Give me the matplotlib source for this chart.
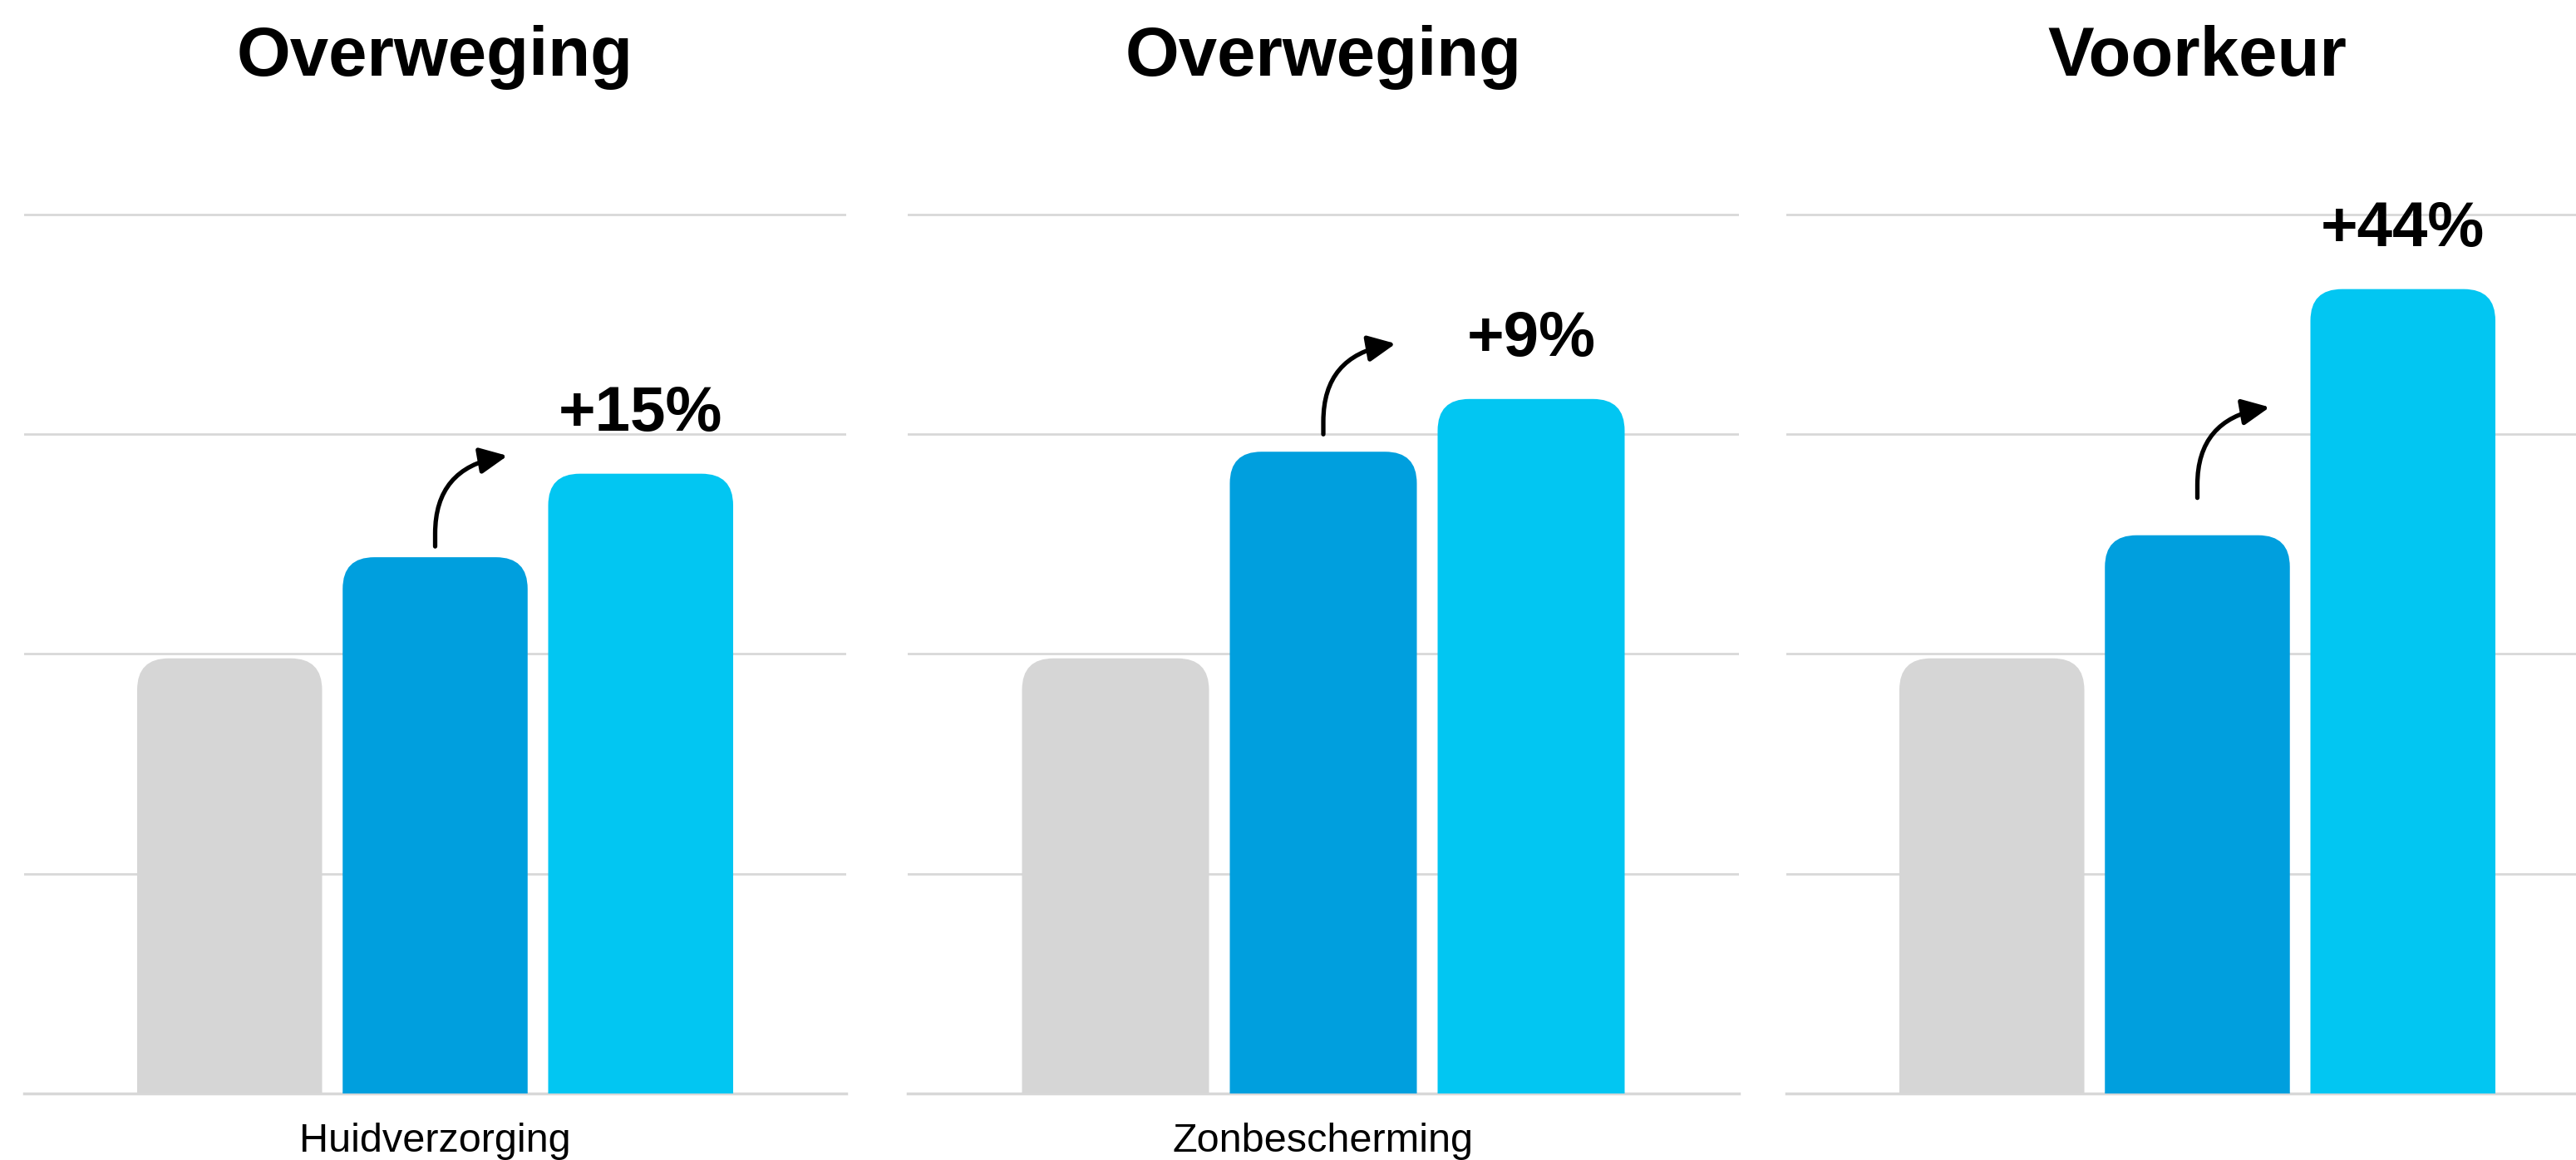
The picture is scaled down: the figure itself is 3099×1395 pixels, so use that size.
import matplotlib.pyplot as plt
from matplotlib.patches import FancyBboxPatch
from matplotlib.transforms import offset_copy

plt.rcParams['font.family'] = ['Liberation Sans', 'DejaVu Sans']

# data: index, grey bar = baseline
titles = ["Overweging", "Overweging", "Voorkeur"]
categories = ["Huidverzorging", "Zonbescherming", ""]
base_vals = [99, 99, 99]
mid_vals = [122, 146, 127]
top_vals = [141, 158, 183]
uplift_labels = ["+15%", "+9%", "+44%"]
grid_vals = [50, 100, 150, 200]

colors = ["#d6d6d6", "#009fde", "#02c6f2"]
grid_color = "#d8d8d8"

W, H = 3099, 1395
fig = plt.figure(figsize=(W / 100, H / 100), dpi=100)

# panel placement in pixels (left, width)
panels = [(29, 989), (1092, 1000), (2149, 989)]
bottom_px = 80
ymax = 230
height_px = 5.286 * ymax
arrow_gap = [13, 21, 45]   # px between blue bar top and arrow start
radius_px = 38

for i, (left, width) in enumerate(panels):
    ax = fig.add_axes([left / W, bottom_px / H, width / W, height_px / H])
    ax.set_xlim(-1, 3)
    ax.set_ylim(0, ymax)
    for s in ax.spines.values():
        s.set_visible(False)
    ax.set_yticks(grid_vals)
    ax.grid(axis='y', color=grid_color, lw=2)
    ax.set_axisbelow(True)
    ax.axhline(0, color=grid_color, lw=2.5, clip_on=False, zorder=1)
    ax.tick_params(axis='y', length=0, labelleft=False)
    ax.set_xticks([1])
    ax.set_xticklabels([categories[i]], fontsize=35)
    ax.tick_params(axis='x', length=0, pad=25)

    vals = [base_vals[i], mid_vals[i], top_vals[i]]
    bars = ax.bar([0, 1, 2], vals, width=0.9, color=colors, zorder=2)

    # rounded top corners: draw each bar as a rounded box, bottom cut at y=0
    rx = radius_px / (width / 4)
    ry = radius_px / 5.286
    for b, c in zip(bars, colors):
        x0, w, h = b.get_x(), b.get_width(), b.get_height()
        b.set_visible(False)
        ax.add_patch(FancyBboxPatch((x0, -ry), w, h + ry,
                                    boxstyle=f"round,pad=0,rounding_size={rx}",
                                    mutation_aspect=ry / rx,
                                    fc=c, ec='none', zorder=2))

    # uplift label above the last bar
    ax.annotate(uplift_labels[i], xy=(2, top_vals[i]), xytext=(0, 37),
                textcoords='offset points', ha='center', va='baseline',
                fontsize=55, fontweight='bold', zorder=4)

    # curved arrow from the middle bar
    g = arrow_gap[i]
    start_tr = offset_copy(ax.transData, fig=fig, x=0, y=g, units='dots')
    tip_tr = offset_copy(ax.transData, fig=fig, x=87, y=g + 109, units='dots')
    ax.annotate("", xy=(1, mid_vals[i]), xycoords=tip_tr,
                xytext=(1, mid_vals[i]), textcoords=start_tr,
                arrowprops=dict(arrowstyle="-|>,head_length=20,head_width=9.5",
                                connectionstyle="angle,angleA=90,angleB=10,rad=78",
                                mutation_scale=1, lw=3.8, color='black',
                                shrinkA=0, shrinkB=0),
                annotation_clip=False, zorder=4)

    ax.set_title(titles[i], fontsize=60, fontweight='bold', y=1.0, pad=6)

fig.savefig("out.png", dpi=100, facecolor='white')
